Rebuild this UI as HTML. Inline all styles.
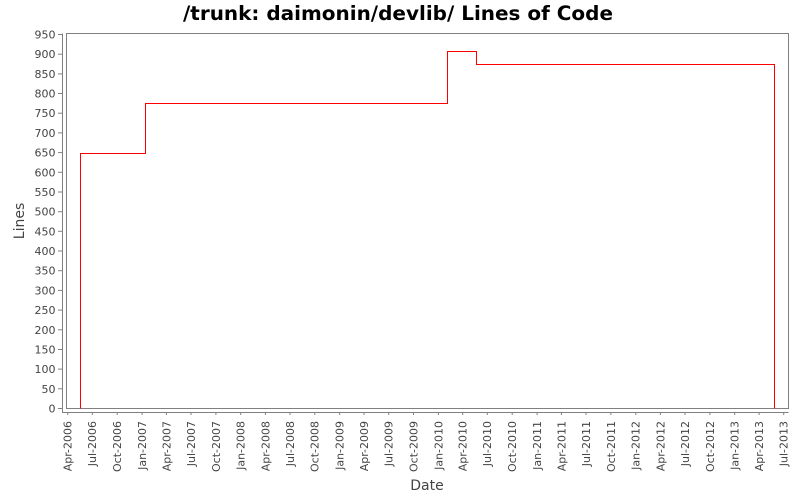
<!DOCTYPE html>
<html>
<head>
<meta charset="utf-8">
<style>
  html, body { margin: 0; padding: 0; background: #ffffff; }
  svg { display: block; }
  text { font-family: "DejaVu Sans", "Liberation Sans", sans-serif; }
</style>
</head>
<body>
<svg width="800" height="500" viewBox="0 0 800 500" xmlns="http://www.w3.org/2000/svg">
  <rect x="0" y="0" width="800" height="500" fill="#ffffff"/>

  <!-- Title -->
  <text x="398" y="20" text-anchor="middle" font-size="19.5" font-weight="bold" fill="#000" textLength="430" lengthAdjust="spacingAndGlyphs">/trunk: daimonin/devlib/ Lines of Code</text>

  <!-- Plot outline -->
  <rect x="66.5" y="33.5" width="722" height="375" fill="#ffffff" stroke="#808080" stroke-width="1"/>

  <!-- Y axis line & ticks -->
  <g stroke="#808080" stroke-width="1" fill="none">
    <line x1="62.5" y1="33.5" x2="62.5" y2="412.5"/>
    <line x1="58" y1="408.5" x2="62.5" y2="408.5"/>
    <line x1="58" y1="388.8" x2="62.5" y2="388.8"/>
    <line x1="58" y1="369.1" x2="62.5" y2="369.1"/>
    <line x1="58" y1="349.5" x2="62.5" y2="349.5"/>
    <line x1="58" y1="329.8" x2="62.5" y2="329.8"/>
    <line x1="58" y1="310.1" x2="62.5" y2="310.1"/>
    <line x1="58" y1="290.4" x2="62.5" y2="290.4"/>
    <line x1="58" y1="270.7" x2="62.5" y2="270.7"/>
    <line x1="58" y1="251.0" x2="62.5" y2="251.0"/>
    <line x1="58" y1="231.3" x2="62.5" y2="231.3"/>
    <line x1="58" y1="211.7" x2="62.5" y2="211.7"/>
    <line x1="58" y1="192.0" x2="62.5" y2="192.0"/>
    <line x1="58" y1="172.3" x2="62.5" y2="172.3"/>
    <line x1="58" y1="152.6" x2="62.5" y2="152.6"/>
    <line x1="58" y1="132.9" x2="62.5" y2="132.9"/>
    <line x1="58" y1="113.2" x2="62.5" y2="113.2"/>
    <line x1="58" y1="93.5" x2="62.5" y2="93.5"/>
    <line x1="58" y1="73.9" x2="62.5" y2="73.9"/>
    <line x1="58" y1="54.2" x2="62.5" y2="54.2"/>
    <line x1="58" y1="34.5" x2="62.5" y2="34.5"/>
  </g>

  <!-- Y tick labels -->
  <g font-size="11" fill="#444" text-anchor="end">
    <text x="55.5" y="412.5">0</text>
    <text x="55.5" y="392.8">50</text>
    <text x="55.5" y="373.1">100</text>
    <text x="55.5" y="353.5">150</text>
    <text x="55.5" y="333.8">200</text>
    <text x="55.5" y="314.1">250</text>
    <text x="55.5" y="294.4">300</text>
    <text x="55.5" y="274.7">350</text>
    <text x="55.5" y="255.0">400</text>
    <text x="55.5" y="235.3">450</text>
    <text x="55.5" y="215.7">500</text>
    <text x="55.5" y="196.0">550</text>
    <text x="55.5" y="176.3">600</text>
    <text x="55.5" y="156.6">650</text>
    <text x="55.5" y="136.9">700</text>
    <text x="55.5" y="117.2">750</text>
    <text x="55.5" y="97.5">800</text>
    <text x="55.5" y="77.9">850</text>
    <text x="55.5" y="58.2">900</text>
    <text x="55.5" y="38.5">950</text>
  </g>

  <!-- Y axis title -->
  <text transform="translate(24,221) rotate(-90)" text-anchor="middle" font-size="14" fill="#444">Lines</text>

  <!-- X axis line & ticks -->
  <g stroke="#808080" stroke-width="1" fill="none">
    <line x1="62" y1="412.5" x2="788.5" y2="412.5"/>
    <line x1="67.7" y1="412.5" x2="67.7" y2="415"/>
    <line x1="92.3" y1="412.5" x2="92.3" y2="415"/>
    <line x1="117.2" y1="412.5" x2="117.2" y2="415"/>
    <line x1="142.1" y1="412.5" x2="142.1" y2="415"/>
    <line x1="166.4" y1="412.5" x2="166.4" y2="415"/>
    <line x1="191.0" y1="412.5" x2="191.0" y2="415"/>
    <line x1="215.9" y1="412.5" x2="215.9" y2="415"/>
    <line x1="240.7" y1="412.5" x2="240.7" y2="415"/>
    <line x1="265.4" y1="412.5" x2="265.4" y2="415"/>
    <line x1="290.0" y1="412.5" x2="290.0" y2="415"/>
    <line x1="314.8" y1="412.5" x2="314.8" y2="415"/>
    <line x1="339.7" y1="412.5" x2="339.7" y2="415"/>
    <line x1="364.0" y1="412.5" x2="364.0" y2="415"/>
    <line x1="388.7" y1="412.5" x2="388.7" y2="415"/>
    <line x1="413.5" y1="412.5" x2="413.5" y2="415"/>
    <line x1="438.4" y1="412.5" x2="438.4" y2="415"/>
    <line x1="462.7" y1="412.5" x2="462.7" y2="415"/>
    <line x1="487.3" y1="412.5" x2="487.3" y2="415"/>
    <line x1="512.2" y1="412.5" x2="512.2" y2="415"/>
    <line x1="537.1" y1="412.5" x2="537.1" y2="415"/>
    <line x1="561.4" y1="412.5" x2="561.4" y2="415"/>
    <line x1="586.0" y1="412.5" x2="586.0" y2="415"/>
    <line x1="610.9" y1="412.5" x2="610.9" y2="415"/>
    <line x1="635.8" y1="412.5" x2="635.8" y2="415"/>
    <line x1="660.4" y1="412.5" x2="660.4" y2="415"/>
    <line x1="685.0" y1="412.5" x2="685.0" y2="415"/>
    <line x1="709.9" y1="412.5" x2="709.9" y2="415"/>
    <line x1="734.7" y1="412.5" x2="734.7" y2="415"/>
    <line x1="759.1" y1="412.5" x2="759.1" y2="415"/>
    <line x1="783.7" y1="412.5" x2="783.7" y2="415"/>
  </g>

  <!-- X tick labels (rotated) -->
  <g font-size="11" fill="#444" text-anchor="end">
    <text transform="translate(67.7,421) rotate(-90)" dy="0.35em">Apr-2006</text>
    <text transform="translate(92.3,421) rotate(-90)" dy="0.35em">Jul-2006</text>
    <text transform="translate(117.2,421) rotate(-90)" dy="0.35em">Oct-2006</text>
    <text transform="translate(142.1,421) rotate(-90)" dy="0.35em">Jan-2007</text>
    <text transform="translate(166.4,421) rotate(-90)" dy="0.35em">Apr-2007</text>
    <text transform="translate(191.0,421) rotate(-90)" dy="0.35em">Jul-2007</text>
    <text transform="translate(215.9,421) rotate(-90)" dy="0.35em">Oct-2007</text>
    <text transform="translate(240.7,421) rotate(-90)" dy="0.35em">Jan-2008</text>
    <text transform="translate(265.4,421) rotate(-90)" dy="0.35em">Apr-2008</text>
    <text transform="translate(290.0,421) rotate(-90)" dy="0.35em">Jul-2008</text>
    <text transform="translate(314.8,421) rotate(-90)" dy="0.35em">Oct-2008</text>
    <text transform="translate(339.7,421) rotate(-90)" dy="0.35em">Jan-2009</text>
    <text transform="translate(364.0,421) rotate(-90)" dy="0.35em">Apr-2009</text>
    <text transform="translate(388.7,421) rotate(-90)" dy="0.35em">Jul-2009</text>
    <text transform="translate(413.5,421) rotate(-90)" dy="0.35em">Oct-2009</text>
    <text transform="translate(438.4,421) rotate(-90)" dy="0.35em">Jan-2010</text>
    <text transform="translate(462.7,421) rotate(-90)" dy="0.35em">Apr-2010</text>
    <text transform="translate(487.3,421) rotate(-90)" dy="0.35em">Jul-2010</text>
    <text transform="translate(512.2,421) rotate(-90)" dy="0.35em">Oct-2010</text>
    <text transform="translate(537.1,421) rotate(-90)" dy="0.35em">Jan-2011</text>
    <text transform="translate(561.4,421) rotate(-90)" dy="0.35em">Apr-2011</text>
    <text transform="translate(586.0,421) rotate(-90)" dy="0.35em">Jul-2011</text>
    <text transform="translate(610.9,421) rotate(-90)" dy="0.35em">Oct-2011</text>
    <text transform="translate(635.8,421) rotate(-90)" dy="0.35em">Jan-2012</text>
    <text transform="translate(660.4,421) rotate(-90)" dy="0.35em">Apr-2012</text>
    <text transform="translate(685.0,421) rotate(-90)" dy="0.35em">Jul-2012</text>
    <text transform="translate(709.9,421) rotate(-90)" dy="0.35em">Oct-2012</text>
    <text transform="translate(734.7,421) rotate(-90)" dy="0.35em">Jan-2013</text>
    <text transform="translate(759.1,421) rotate(-90)" dy="0.35em">Apr-2013</text>
    <text transform="translate(783.7,421) rotate(-90)" dy="0.35em">Jul-2013</text>
  </g>

  <!-- X axis title -->
  <text x="427" y="490" text-anchor="middle" font-size="14" fill="#444">Date</text>

  <!-- Data series -->
  <path d="M80.5 408.5 V153.5 H145.5 V103.5 H447.5 V51.5 H476.5 V64.5 H774.5 V408.5" fill="none" stroke="#ff0000" stroke-width="1"/>
</svg>
</body>
</html>
